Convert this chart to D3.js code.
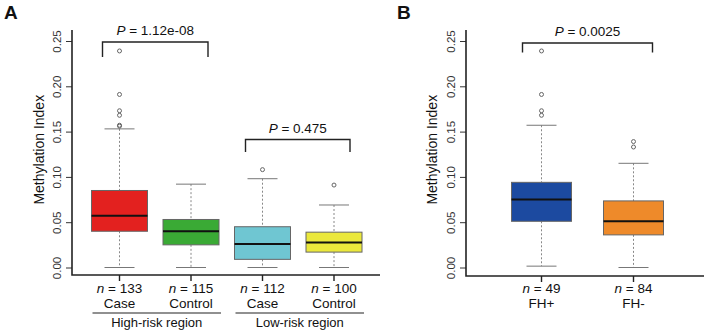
<!DOCTYPE html>
<html>
<head>
<meta charset="utf-8">
<script src="https://cdn.jsdelivr.net/npm/d3@7"></script>
<style>
  body { margin: 0; background: #fff; }
  svg { display: block; font-family: "Liberation Sans", Arial, sans-serif; }
</style>
</head>
<body>
<svg id="chart" width="707" height="333"></svg>
<script>
// panel A data
const aGroups = ['Case', 'Control', 'Case', 'Control'];
const aN = [133, 115, 112, 100];
const aColors = ['#e3211f', '#3aaa35', '#6fc6d2', '#ebe83c'];
const aLow = [0.0, 0.0, 0.0, 0.0];
const aQ1 = [0.040, 0.025, 0.009, 0.017];
const aMed = [0.057, 0.040, 0.026, 0.0275];
const aQ3 = [0.085, 0.053, 0.045, 0.039];
const aHigh = [0.153, 0.092, 0.098, 0.069];
const aOut = [[0.239, 0.191, 0.173, 0.168, 0.157, 0.156], [], [0.108], [0.091]];
const aRegions = ['High-risk region', 'Low-risk region'];

// panel B data
const bGroups = ['FH+', 'FH-'];
const bN = [49, 84];
const bColors = ['#1c4aa0', '#ee8a2a'];
const bLow = [0.0015, 0.0];
const bQ1 = [0.051, 0.036];
const bMed = [0.075, 0.051];
const bQ3 = [0.094, 0.0735];
const bHigh = [0.157, 0.115];
const bOut = [[0.239, 0.191, 0.173, 0.168], [0.139, 0.133]];

const yTicks = [0, 0.05, 0.10, 0.15, 0.20, 0.25];

const svg = d3.select('#chart');

// y scale shared by both panels
const y = d3.scaleLinear().domain([0, 0.25]).range([267.5, 41]);

function drawPanel(opts) {
  const g = svg.append('g');
  const data = opts.groups.map((name, i) => ({
    name, n: opts.n[i], color: opts.colors[i],
    low: opts.low[i], q1: opts.q1[i], med: opts.med[i], q3: opts.q3[i], high: opts.high[i],
    out: opts.out[i], key: i
  }));

  const x = d3.scalePoint()
    .domain(data.map(d => d.key))
    .range(opts.xRange);

  // axes (bty = "l")
  const yAxis = d3.axisLeft(y).tickValues(yTicks).tickSize(6).tickFormat(d3.format('.2f'));
  const ya = g.append('g')
    .attr('transform', `translate(${opts.axisX},0)`)
    .call(yAxis);
  ya.select('.domain').remove();
  ya.selectAll('.tick line').attr('stroke', '#333');
  ya.selectAll('.tick text')
    .attr('fill', '#333')
    .attr('font-size', 11.5)
    .attr('text-anchor', 'middle')
    .attr('dy', 0)
    .attr('x', 0).attr('y', 0)
    .attr('transform', 'translate(-11,0) rotate(-90)');

  g.append('path')
    .attr('d', `M${opts.axisX},30V${opts.axisY}H${opts.axisEnd}`)
    .attr('fill', 'none').attr('stroke', '#222').attr('stroke-width', 1.6);

  // x ticks
  g.selectAll('.xtick').data(data).enter().append('line')
    .attr('x1', d => x(d.key)).attr('x2', d => x(d.key))
    .attr('y1', opts.axisY).attr('y2', opts.axisY + 6)
    .attr('stroke', '#222').attr('stroke-width', 1.4);

  const nLab = g.selectAll('.nlab').data(data).enter().append('text')
    .attr('x', d => x(d.key)).attr('y', 293)
    .attr('text-anchor', 'middle').attr('font-size', 13.5).attr('fill', '#111');
  nLab.append('tspan').attr('font-style', 'italic').text('n');
  nLab.append('tspan').text(d => ' = ' + d.n);

  g.selectAll('.glab').data(data).enter().append('text')
    .attr('x', d => x(d.key)).attr('y', 308)
    .attr('text-anchor', 'middle').attr('font-size', 13.5).attr('fill', '#111')
    .text(d => d.name);

  // whiskers
  g.selectAll('.wu').data(data).enter().append('line')
    .attr('x1', d => x(d.key)).attr('x2', d => x(d.key))
    .attr('y1', d => y(d.high)).attr('y2', d => y(d.q3))
    .attr('stroke', '#888').attr('stroke-dasharray', '2,2');
  g.selectAll('.wl').data(data).enter().append('line')
    .attr('x1', d => x(d.key)).attr('x2', d => x(d.key))
    .attr('y1', d => y(d.q1)).attr('y2', d => y(d.low))
    .attr('stroke', '#888').attr('stroke-dasharray', '2,2');
  ['high', 'low'].forEach(k => {
    g.selectAll('.cap' + k).data(data).enter().append('line')
      .attr('x1', d => x(d.key) - opts.cap).attr('x2', d => x(d.key) + opts.cap)
      .attr('y1', d => y(d[k])).attr('y2', d => y(d[k]))
      .attr('stroke', '#777').attr('stroke-width', 1);
  });

  // boxes
  g.selectAll('.box').data(data).enter().append('rect')
    .attr('x', d => x(d.key) - opts.boxW / 2)
    .attr('width', opts.boxW)
    .attr('y', d => y(d.q3))
    .attr('height', d => y(d.q1) - y(d.q3))
    .attr('fill', d => d.color)
    .attr('stroke', '#666').attr('stroke-width', 1);

  g.selectAll('.med').data(data).enter().append('line')
    .attr('x1', d => x(d.key) - opts.boxW / 2).attr('x2', d => x(d.key) + opts.boxW / 2)
    .attr('y1', d => y(d.med)).attr('y2', d => y(d.med))
    .attr('stroke', '#111').attr('stroke-width', 2);

  // outliers
  data.forEach(d => {
    g.selectAll(null).data(d.out).enter().append('circle')
      .attr('cx', x(d.key)).attr('cy', v => y(v)).attr('r', 2)
      .attr('fill', 'none').attr('stroke', '#666').attr('stroke-width', 1);
  });

  // y title
  g.append('text')
    .attr('transform', `translate(${opts.titleX},${y(0.13)}) rotate(-90)`)
    .attr('text-anchor', 'middle').attr('font-size', 14).attr('fill', '#111')
    .text('Methylation Index');

  // panel letter
  g.append('text')
    .attr('x', opts.letterX).attr('y', 19)
    .attr('font-size', 19).attr('font-weight', 'bold').attr('fill', '#111')
    .text(opts.letter);

  return x;
}

function bracket(x1, x2, top, bottom, label) {
  svg.append('path')
    .attr('d', `M${x1},${bottom}V${top}H${x2}V${bottom}`)
    .attr('fill', 'none').attr('stroke', '#222').attr('stroke-width', 1.4);
  const t = svg.append('text')
    .attr('x', (x1 + x2) / 2).attr('y', top - 7)
    .attr('text-anchor', 'middle').attr('font-size', 13.5).attr('fill', '#111');
  t.append('tspan').attr('font-style', 'italic').text('P');
  t.append('tspan').text(' = ' + label);
}

const xA = drawPanel({
  groups: aGroups, n: aN, colors: aColors,
  low: aLow, q1: aQ1, med: aMed, q3: aQ3, high: aHigh, out: aOut,
  xRange: [119.5, 334], axisX: 72, axisY: 275, axisEnd: 380,
  boxW: 56, cap: 15, titleX: 44, letterX: 4, letter: 'A'
});

const xB = drawPanel({
  groups: bGroups, n: bN, colors: bColors,
  low: bLow, q1: bQ1, med: bMed, q3: bQ3, high: bHigh, out: bOut,
  xRange: [541.5, 633.5], axisX: 466, axisY: 276, axisEnd: 704,
  boxW: 60, cap: 15, titleX: 437, letterX: 397, letter: 'B'
});

// region labels under panel A
const regionCenters = [[xA(0), xA(1)], [xA(2), xA(3)]];
regionCenters.forEach((c, i) => {
  svg.append('line')
    .attr('x1', c[0] - 27).attr('x2', c[1] + 30)
    .attr('y1', 313).attr('y2', 313)
    .attr('stroke', '#222').attr('stroke-width', 1.2);
  svg.append('text')
    .attr('x', (c[0] + c[1]) / 2 + 1.5).attr('y', 327)
    .attr('text-anchor', 'middle').attr('font-size', 13).attr('fill', '#111')
    .text(aRegions[i]);
});

// significance brackets
bracket(xA(0) - 17, xA(1) + 17, 42, 57, '1.12e-08');
bracket(xA(2) - 17, xA(3) + 16, 139.5, 152, '0.475');
bracket(xB(0) - 19, xB(1) + 19, 43, 52.5, '0.0025');
</script>
</body>
</html>
